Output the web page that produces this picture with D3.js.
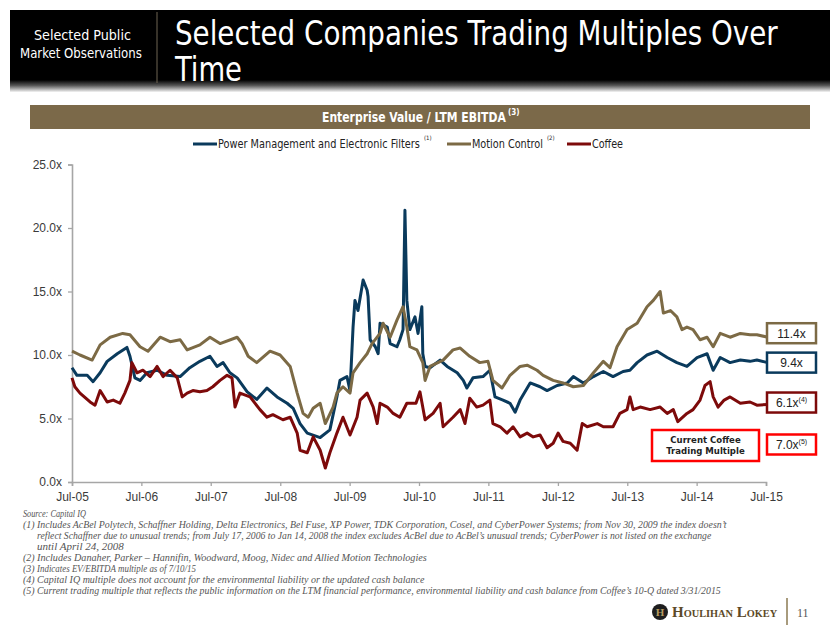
<!DOCTYPE html>
<html><head><meta charset="utf-8">
<script src="https://cdn.jsdelivr.net/npm/d3@7"></script>
<style>body{margin:0;background:#fff}svg{display:block}</style>
</head><body><svg id="c" width="840" height="635"></svg>
<script>
// ---------------- DATA ----------------
const powerMgmt = [
["2005-07-01",9.0],["2005-07-27",8.4],["2005-09-19",8.4],["2005-10-20",7.9],["2005-11-26",8.6],
["2006-01-02",9.5],["2006-02-24",10.1],["2006-04-16",10.6],["2006-05-02",9.9],["2006-05-28",8.2],
["2006-06-24",8.0],["2006-07-30",8.6],["2006-09-22",8.8],["2006-11-14",8.4],["2007-01-21",8.3],
["2007-03-13",9.0],["2007-05-05",9.5],["2007-06-27",9.9],["2007-08-03",9.1],["2007-09-04",9.4],
["2007-10-10",8.6],["2007-11-17",8.2],["2008-01-09",7.1],["2008-02-28",6.5],["2008-04-22",7.4],
["2008-06-14",6.7],["2008-08-06",6.2],["2008-09-07",5.8],["2008-10-13",4.6],["2008-11-20",3.85],
["2009-01-27",3.5],["2009-03-19",4.1],["2009-04-25",6.7],["2009-05-11",8.0],["2009-06-17",8.3],
["2009-07-03",7.2],["2009-07-19",12.2],["2009-07-29",14.3],["2009-08-14",13.5],["2009-09-10",15.9],
["2009-10-01",15.1],["2009-10-06",14.6],["2009-10-17",11.2],["2009-11-13",10.65],["2009-11-28",10.1],
["2009-12-08",12.5],["2010-01-15",12.2],["2010-01-30",10.9],["2010-03-07",10.65],["2010-03-22",11.2],
["2010-04-08",12.0],["2010-04-18",21.4],["2010-04-28",14.3],["2010-05-14",12.0],["2010-06-10",13.0],
["2010-06-26",11.7],["2010-07-16",13.8],["2010-07-21",10.1],["2010-08-02",9.1],["2010-08-28",9.0],
["2010-10-20",9.6],["2010-11-26",9.1],["2011-01-18",8.6],["2011-02-19",8.0],["2011-03-10",7.4],
["2011-04-11",8.2],["2011-06-03",8.3],["2011-07-09",8.8],["2011-08-05",6.7],["2011-09-16",6.45],
["2011-10-23",6.2],["2011-11-19",5.5],["2011-12-15",6.45],["2012-02-06",7.8],["2012-03-29",7.5],
["2012-05-05",7.2],["2012-06-27",7.6],["2012-08-19",7.8],["2012-09-20",8.3],["2012-11-12",7.8],
["2013-01-04",8.3],["2013-02-25",8.7],["2013-04-17",8.3],["2013-06-09",8.7],["2013-07-15",8.8],
["2013-08-22",9.4],["2013-10-13",10.0],["2013-12-05",10.3],["2014-01-27",9.8],["2014-03-19",9.4],
["2014-05-11",9.1],["2014-07-03",9.8],["2014-08-25",10.1],["2014-09-26",8.8],["2014-11-02",9.8],
["2014-12-24",9.4],["2015-02-16",9.6],["2015-04-08",9.5],["2015-05-14",9.6],["2015-07-10",9.4]
];
const motionControl = [
["2005-07-01",10.3],["2005-08-12",10.0],["2005-10-15",9.6],["2005-11-26",10.8],["2006-01-18",11.4],
["2006-03-25",11.7],["2006-05-02",11.6],["2006-06-24",10.65],["2006-08-05",10.3],["2006-10-08",11.4],
["2006-11-29",11.05],["2007-01-21",11.2],["2007-02-27",10.4],["2007-05-05",10.8],["2007-06-27",11.4],
["2007-08-19",10.9],["2007-11-17",11.4],["2007-12-13",10.9],["2008-01-14",9.9],["2008-02-28",9.4],
["2008-05-08",10.3],["2008-06-30",10.0],["2008-08-22",9.1],["2008-09-28",7.0],["2008-10-29",5.4],
["2008-11-25",5.1],["2008-12-21",5.8],["2009-01-27",6.2],["2009-02-23",4.6],["2009-04-05",5.9],
["2009-04-25",7.0],["2009-05-27",7.5],["2009-07-03",7.0],["2009-07-19",8.6],["2009-08-25",9.4],
["2009-10-01",10.1],["2009-10-27",10.9],["2009-12-08",11.7],["2009-12-24",12.5],["2010-01-30",11.4],
["2010-03-07",12.75],["2010-04-08",13.8],["2010-04-28",12.2],["2010-05-14",10.65],["2010-06-20",10.4],
["2010-07-21",9.4],["2010-08-02",8.0],["2010-08-28",9.1],["2010-11-05",9.6],["2010-12-27",10.4],
["2011-02-03",10.55],["2011-03-25",9.9],["2011-05-17",9.4],["2011-06-29",9.5],["2011-07-25",8.0],
["2011-09-11",7.4],["2011-10-23",8.4],["2011-12-15",9.1],["2012-01-21",9.2],["2012-03-13",8.8],
["2012-04-14",8.4],["2012-06-06",8.0],["2012-07-28",7.8],["2012-09-20",7.5],["2012-11-12",7.6],
["2013-01-04",8.6],["2013-02-25",9.5],["2013-04-01",9.0],["2013-05-08",10.65],["2013-06-30",12.0],
["2013-08-22",12.5],["2013-10-13",13.8],["2013-11-15",14.3],["2013-12-21",15.0],["2014-01-07",13.3],
["2014-02-13",13.5],["2014-03-19",13.0],["2014-04-15",12.0],["2014-05-11",12.2],["2014-06-12",12.0],
["2014-07-19",11.2],["2014-08-25",11.4],["2014-09-26",10.65],["2014-11-02",11.7],["2014-12-24",11.4],
["2015-02-16",11.7],["2015-04-08",11.6],["2015-05-14",11.6],["2015-07-10",11.4]
];
const coffee = [
["2005-07-01",8.2],["2005-07-16",7.5],["2005-08-12",7.0],["2005-10-04",6.3],["2005-10-30",6.05],
["2005-11-26",7.2],["2006-01-02",6.3],["2006-02-03",6.45],["2006-03-10",6.2],["2006-04-05",7.0],
["2006-05-02",8.0],["2006-05-12",9.4],["2006-06-08",8.6],["2006-07-09",8.8],["2006-08-16",8.3],
["2006-09-22",9.1],["2006-10-23",8.3],["2006-11-29",8.8],["2007-01-06",8.2],["2007-02-01",6.7],
["2007-02-27",7.0],["2007-03-29",7.2],["2007-05-05",7.1],["2007-06-11",7.2],["2007-07-12",7.5],
["2007-08-19",8.0],["2007-09-25",8.4],["2007-10-21",8.2],["2007-11-06",5.9],["2007-12-02",7.0],
["2008-01-24",6.7],["2008-03-16",5.7],["2008-04-22",5.1],["2008-05-23",5.3],["2008-07-15",4.9],
["2008-08-22",5.1],["2008-09-28",3.85],["2008-10-13",2.5],["2008-11-20",2.3],["2008-12-21",3.55],
["2009-01-27",2.5],["2009-02-23",1.1],["2009-03-19",2.3],["2009-04-25",3.85],["2009-05-27",5.1],
["2009-07-03",3.7],["2009-08-09",5.1],["2009-08-25",6.45],["2009-10-01",7.0],["2009-11-02",5.9],
["2009-11-23",4.6],["2009-12-08",6.2],["2010-01-15",5.9],["2010-02-15",5.4],["2010-03-22",5.1],
["2010-04-28",6.2],["2010-06-15",6.2],["2010-07-06",7.1],["2010-08-02",4.9],["2010-09-13",5.4],
["2010-10-20",6.2],["2010-11-05",4.35],["2010-12-27",5.1],["2011-02-03",5.7],["2011-02-28",4.6],
["2011-03-25",6.6],["2011-05-01",5.9],["2011-06-03",6.05],["2011-07-09",6.45],["2011-07-25",4.6],
["2011-09-01",4.35],["2011-10-07",3.85],["2011-11-08",4.35],["2011-12-15",3.55],["2012-01-21",3.85],
["2012-02-22",3.55],["2012-03-29",3.7],["2012-05-05",2.7],["2012-06-06",3.05],["2012-07-02",3.85],
["2012-07-28",3.2],["2012-09-04",3.05],["2012-10-10",2.5],["2012-11-06",4.6],["2012-12-02",4.35],
["2013-01-24",4.6],["2013-02-25",4.35],["2013-04-17",4.35],["2013-05-23",5.4],["2013-06-30",5.7],
["2013-07-15",6.7],["2013-08-01",5.7],["2013-09-07",5.9],["2013-10-29",5.7],["2013-12-21",5.9],
["2014-01-27",5.4],["2014-02-28",5.7],["2014-03-24",4.75],["2014-05-11",5.4],["2014-06-12",5.7],
["2014-07-19",6.45],["2014-08-14",7.6],["2014-09-10",7.9],["2014-09-26",6.7],["2014-10-22",5.9],
["2014-11-23",6.45],["2014-12-24",6.7],["2015-02-16",6.2],["2015-04-08",6.3],["2015-05-14",6.05],
["2015-07-10",6.1]
];
const seriesNames = ["Power Management and Electronic Filters","Motion Control","Coffee"];
const seriesNotes = ["(1)","(2)",""];
const yTickValues = [0,5,10,15,20,25];
const xTickYears = [2005,2006,2007,2008,2009,2010,2011,2012,2013,2014,2015];
const endLabels = ["11.4x","9.4x","6.1x","7.0x"];
const endNotes = ["","","(4)","(5)"];
const currentCoffeeLabel = ["Current Coffee","Trading Multiple"];
const footnotes = [
 ["", "Source: Capital IQ"],
 ["(1)", "Includes AcBel Polytech, Schaffner Holding, Delta Electronics, Bel Fuse, XP Power, TDK Corporation, Cosel, and CyberPower Systems; from Nov 30, 2009 the index doesn\u2019t"],
 ["", "reflect Schaffner due to unusual trends; from July 17, 2006 to Jan 14, 2008 the index excludes AcBel due to AcBel\u2019s unusual trends; CyberPower is not listed on the exchange"],
 ["", "until April 24, 2008"],
 ["(2)", "Includes Danaher, Parker \u2013 Hannifin, Woodward, Moog, Nidec and Allied Motion Technologies"],
 ["(3)", "Indicates EV/EBITDA multiple as of 7/10/15"],
 ["(4)", "Capital IQ multiple does not account for the environmental liability or the updated cash balance"],
 ["(5)", "Current trading multiple that reflects the public information on the LTM financial performance, environmental liability and cash balance from Coffee\u2019s 10-Q dated 3/31/2015"]
];
const footWidths = [63,690,675,87,390,159,388,685];

// ---------------- DRAW ----------------
const svg = d3.select("#c");
const colors = ["#0a3a5c","#7c6a45","#7d0a0a"];
const bright = "#ff0000";
const narrow = "'Liberation Sans Narrow','DejaVu Sans Condensed','Roboto',sans-serif";
const sans = "'Liberation Sans','Roboto',sans-serif";
const serif = "'Liberation Serif','DejaVu Serif',serif";

// horizontally scale a text so its rendered width equals w
function fit(t, w) {
  const n = t.node().getComputedTextLength();
  const k = w / n;
  const x0 = +t.attr("x"), y0 = +t.attr("y");
  t.attr("x", 0).attr("y", 0).attr("transform", `translate(${x0},${y0}) scale(${k},1)`);
  return t;
}

// header
const defs = svg.append("defs");
const g1 = defs.append("linearGradient").attr("id","hg").attr("x1",0).attr("y1",0).attr("x2",0).attr("y2",1);
g1.append("stop").attr("offset","0%").attr("stop-color","#000");
g1.append("stop").attr("offset","45%").attr("stop-color","#555");
g1.append("stop").attr("offset","100%").attr("stop-color","#f4f4f4");
svg.append("rect").attr("x",10).attr("y",10).attr("width",820).attr("height",70).attr("fill","#000");
svg.append("rect").attr("x",10).attr("y",80).attr("width",820).attr("height",12).attr("fill","url(#hg)");
svg.append("line").attr("x1",157).attr("x2",157).attr("y1",12).attr("y2",83).attr("stroke","#6e6453").attr("stroke-width",1);
fit(svg.append("text").attr("x",34).attr("y",40).attr("fill","#fff")
  .style("font-family",narrow).style("font-size","13.5px").text("Selected Public"), 97);
fit(svg.append("text").attr("x",20).attr("y",58).attr("fill","#fff")
  .style("font-family",narrow).style("font-size","13.5px").text("Market Observations"), 122);
fit(svg.append("text").attr("x",175).attr("y",45).attr("fill","#fff")
  .style("font-family",narrow).style("font-size","34px").text("Selected Companies Trading Multiples Over"), 603);
fit(svg.append("text").attr("x",175).attr("y",81).attr("fill","#fff")
  .style("font-family",narrow).style("font-size","34px").text("Time"), 67);

// banner
svg.append("rect").attr("x",30).attr("y",105).attr("width",780).attr("height",24).attr("fill","#7b6949");
fit(svg.append("text").attr("x",322).attr("y",122).attr("fill","#fff")
  .style("font-family",narrow).style("font-size","14.5px").style("font-weight","bold").text("Enterprise Value / LTM EBITDA"), 184);
svg.append("text").attr("x",508).attr("y",115).attr("fill","#fff")
  .style("font-family",narrow).style("font-size","8px").style("font-weight","bold").text("(3)");

// scales
const parse = d3.utcParse("%Y-%m-%d");
const x = d3.scaleUtc().domain([Date.UTC(2005,6,1),Date.UTC(2015,6,1)]).range([72,766]);
const y = d3.scaleLinear().domain([0,25]).range([482,164.5]);

// axes
const yAxis = svg.append("g").attr("transform","translate(72,0)")
  .call(d3.axisLeft(y).tickValues(yTickValues).tickSize(4).tickPadding(6).tickFormat(d=>d.toFixed(1)+"x"));
const xAxis = svg.append("g").attr("transform","translate(0,482)")
  .call(d3.axisBottom(x).tickValues(xTickYears.map(yr=>new Date(Date.UTC(yr,6,1)))).tickSize(4).tickPadding(6)
  .tickFormat(d3.utcFormat("%b-%y")));
[yAxis,xAxis].forEach(a=>{
  a.selectAll("path.domain").attr("stroke","#a6a6a6").attr("stroke-width",1.6);
  a.selectAll(".tick line").attr("stroke","#a6a6a6").attr("stroke-width",1.3);
  a.selectAll(".tick text").attr("fill","#3a3a3a").style("font-family",sans).style("font-size","12px");
});

// lines
const line = d3.line().x(d=>x(parse(d[0]))).y(d=>y(d[1]));
[powerMgmt,motionControl,coffee].forEach((s,i)=>{
  svg.append("path").datum(s).attr("d",line).attr("fill","none").attr("stroke",colors[i])
    .attr("stroke-width",3).attr("stroke-linejoin","round");
});

// legend
const legX = [193,447,567];
const legW = [202,71,31];
seriesNames.forEach((n,i)=>{
  svg.append("line").attr("x1",legX[i]).attr("x2",legX[i]+24).attr("y1",144).attr("y2",144)
    .attr("stroke",colors[i]).attr("stroke-width",3);
  fit(svg.append("text").attr("x",legX[i]+25).attr("y",148).attr("fill","#222")
    .style("font-family",narrow).style("font-size","12px").text(n), legW[i]);
  if (seriesNotes[i]) svg.append("text").attr("x",legX[i]+25+legW[i]+4).attr("y",140).attr("fill","#222")
    .style("font-family",narrow).style("font-size","6px").text(seriesNotes[i]);
});

// end labels
const lastVals = [motionControl, powerMgmt, coffee].map(s=>s[s.length-1][1]);
const boxColors = [colors[1],colors[0],colors[2],bright];
const nudge = [-4,0,-2];
const boxCy = [y(lastVals[0])+nudge[0], y(lastVals[1])+nudge[1], y(lastVals[2])+nudge[2], 444.5];
endLabels.forEach((lab,i)=>{
  svg.append("rect").attr("x",767).attr("y",boxCy[i]-10).attr("width",49).attr("height",20)
    .attr("fill","#fff").attr("stroke",boxColors[i]).attr("stroke-width",2.5);
  const t = svg.append("text").attr("x",791.5).attr("y",boxCy[i]+4.5).attr("text-anchor","middle").attr("fill","#222")
    .style("font-family",sans).style("font-size","12px");
  t.append("tspan").text(lab);
  if (endNotes[i]) t.append("tspan").attr("dy",-5).style("font-size","7px").text(endNotes[i]);
});
svg.append("rect").attr("x",652).attr("y",430).attr("width",107).attr("height",31)
  .attr("fill","#fff").attr("stroke",bright).attr("stroke-width",2.5);
currentCoffeeLabel.forEach((s,i)=>{
  svg.append("text").attr("x",705.5).attr("y",443+i*11).attr("text-anchor","middle").attr("fill","#222")
    .style("font-family",narrow).style("font-size","9.5px").style("font-weight","bold").text(s);
});

// footnotes
footnotes.forEach((f,i)=>{
  const yy = 517 + i*11;
  if (f[0]) svg.append("text").attr("x",23).attr("y",yy).attr("fill","#555")
    .style("font-family",serif).style("font-style","italic").style("font-size","10px").text(f[0]);
  fit(svg.append("text").attr("x",i>0 ? 37 : 23).attr("y",yy).attr("fill","#555")
    .style("font-family",serif).style("font-style","italic").style("font-size","10px").text(f[1]), footWidths[i]);
});

// logo
const lg = svg.append("g");
lg.append("circle").attr("cx",660).attr("cy",612).attr("r",8).attr("fill","#1e1e1e");
lg.append("text").attr("x",660).attr("y",616).attr("text-anchor","middle").attr("fill","#b59a5e")
  .style("font-family",serif).style("font-weight","bold").style("font-size","11px").text("H");
fit(lg.append("text").attr("x",672).attr("y",617).attr("fill","#5c4a28")
  .style("font-family",serif).style("font-weight","bold").style("font-size","14px").style("font-variant","small-caps").text("Houlihan Lokey"), 108);
lg.append("line").attr("x1",787).attr("x2",787).attr("y1",598).attr("y2",625).attr("stroke","#8b7a52").attr("stroke-width",1.5);
lg.append("text").attr("x",797).attr("y",617).attr("fill","#555").style("font-family",serif).style("font-size","12px").text("11");
</script></body></html>
